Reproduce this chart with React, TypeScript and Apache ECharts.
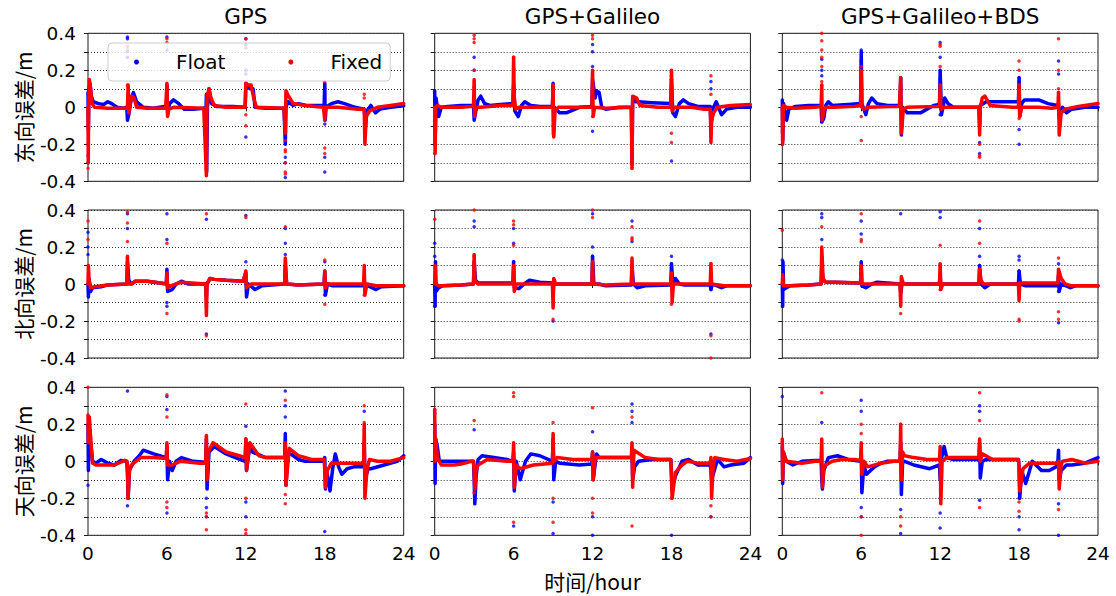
import React, { useEffect, useRef } from 'react';
import * as echarts from 'echarts';

type P = [number, number][];

const columnTitles = ['GPS', 'GPS+Galileo', 'GPS+Galileo+BDS'];
const rowLabels = ['东向误差/m', '北向误差/m', '天向误差/m'];
const xAxisName = '时间/hour';
const seriesNames = ['Float', 'Fixed'];

// ---------- East ----------
const E_GPS_float: P = [[0,0.08],[0.03,-0.12],[0.07,0.1],[0.15,0.13],[0.25,0.06],[0.4,0.03],[0.8,0.02],[1.2,0.015],[1.5,0.03],[1.8,0.02],[2.2,0.0],[2.7,-0.005],[2.95,0.0],[3.0,-0.07],[3.1,-0.04],[3.3,0.05],[3.45,0.08],[3.7,0.03],[4.2,0.0],[5.0,-0.005],[5.8,0.005],[5.98,0.0],[6.0,0.12],[6.05,-0.03],[6.2,0.02],[6.5,0.04],[6.9,0.02],[7.3,-0.01],[8.0,-0.01],[8.8,-0.005],[8.98,0.0],[9.0,0.07],[9.02,-0.35],[9.08,0.0],[9.2,0.1],[9.4,0.02],[9.8,0.005],[11.0,0.005],[11.95,0.0],[12.0,0.13],[12.3,0.1],[12.55,0.1],[12.7,0.0],[13.5,-0.005],[14.9,-0.005],[15.0,-0.2],[15.05,0.0],[15.2,0.03],[15.6,0.01],[16.0,0.02],[16.6,0.01],[17.95,0.01],[18.0,0.13],[18.03,-0.07],[18.1,0.0],[18.5,0.02],[19.0,0.03],[19.5,0.02],[20.3,0.0],[21.0,-0.01],[21.1,-0.1],[21.2,-0.02],[21.5,0.01],[21.85,-0.03],[22.2,-0.01],[23.0,0.0],[24,0.008]];
const E_GPS_fixed: P = [[0,0.0],[0.02,-0.3],[0.05,0.0],[0.1,0.15],[0.2,0.1],[0.3,0.02],[0.5,0.0],[1.5,-0.005],[2.95,-0.005],[3.0,0.0],[3.05,0.12],[3.1,-0.03],[3.3,0.06],[3.5,0.05],[3.7,0.0],[4.5,-0.005],[5.9,-0.005],[6.0,0.13],[6.05,-0.05],[6.15,-0.01],[6.5,0.0],[8.8,-0.005],[9.0,-0.37],[9.05,0.06],[9.2,0.1],[9.35,0.05],[9.6,0.01],[10.5,0.0],[11.95,0.0],[12.0,0.13],[12.2,0.12],[12.4,0.12],[12.6,0.05],[12.8,0.0],[14.9,-0.005],[15.0,-0.14],[15.05,0.09],[15.25,0.06],[15.6,0.02],[16.5,0.01],[17.9,0.0],[18.0,-0.07],[18.05,0.0],[19.0,0.0],[20.5,-0.01],[21.0,-0.01],[21.05,-0.2],[21.15,-0.05],[21.4,-0.02],[22.0,0.0],[23.0,0.01],[24,0.02]];
const E_GPS_floatOut: P = [[3.0,0.38],[3.0,0.37],[3.0,0.3],[3.0,0.27],[6.0,0.38],[6.0,0.31],[0.0,-0.2],[0.0,-0.26],[0.0,-0.3],[12.0,0.37],[12.0,0.34],[12.0,0.2],[12.0,0.18],[12.0,-0.16],[15.0,-0.38],[15.0,-0.3],[15.0,-0.27],[15.0,-0.14],[18.0,-0.35],[18.0,-0.27],[18.0,-0.09],[18.0,0.1],[21.1,-0.06]];
const E_GPS_fixedOut: P = [[0.0,-0.33],[3.0,0.33],[3.0,0.31],[3.0,0.12],[6.0,0.37],[6.0,0.35],[12.0,0.37],[12.0,0.32],[12.0,-0.1],[12.0,-0.04],[15.0,-0.36],[15.0,-0.35],[15.0,-0.3],[15.0,-0.23],[15.0,-0.24],[15.0,-0.18],[18.0,-0.22],[18.0,-0.25],[18.0,0.14],[21.0,0.07],[21.0,0.05],[9.0,-0.33]];

const E_GE_float: P = [[0,0.09],[0.03,-0.2],[0.1,0.05],[0.3,-0.05],[0.5,0.0],[1.0,0.005],[2.0,0.01],[2.95,0.01],[3.0,-0.07],[3.1,-0.03],[3.3,0.04],[3.5,0.06],[3.8,0.02],[4.2,0.01],[5.0,0.015],[5.95,0.02],[6.0,0.12],[6.1,-0.02],[6.35,-0.05],[6.6,0.01],[6.85,0.03],[7.3,0.01],[8.0,0.005],[8.95,0.005],[9.0,0.13],[9.03,-0.15],[9.1,0.0],[9.5,-0.03],[10.0,-0.03],[11.0,0.0],[11.95,0.005],[12.0,0.15],[12.2,0.05],[12.3,0.09],[12.5,0.08],[12.7,0.0],[13.0,-0.01],[14.0,0.0],[14.95,0.0],[15.0,-0.3],[15.05,0.05],[15.3,0.03],[15.5,0.03],[16.5,0.025],[17.95,0.02],[18.0,0.15],[18.1,-0.03],[18.3,-0.05],[18.6,0.02],[18.9,0.04],[19.3,0.02],[20.0,0.005],[20.95,0.005],[21.0,-0.1],[21.2,0.0],[21.4,0.03],[21.8,-0.04],[22.2,-0.01],[23.0,0.0],[24,0.0]];
const E_GE_fixed: P = [[0,0.0],[0.03,-0.25],[0.08,0.0],[0.2,0.01],[0.5,0.0],[2.0,0.0],[2.95,0.005],[3.0,0.15],[3.03,-0.05],[3.1,0.0],[3.5,0.0],[5.0,0.01],[5.95,0.01],[6.0,0.27],[6.05,0.05],[6.15,-0.01],[6.4,0.0],[8.0,0.0],[8.95,0.0],[9.0,0.12],[9.05,-0.16],[9.15,-0.02],[9.4,0.0],[11.95,0.0],[12.0,0.2],[12.05,-0.05],[12.15,0.0],[13.0,-0.005],[14.95,0.0],[15.0,-0.33],[15.05,0.06],[15.35,0.05],[15.6,0.01],[17.0,0.0],[17.95,0.0],[18.0,0.2],[18.05,-0.02],[18.2,0.0],[19.5,0.0],[20.5,-0.01],[20.95,-0.01],[21.0,-0.19],[21.05,-0.07],[21.2,-0.03],[21.5,0.0],[22.5,0.01],[24,0.015]];
const E_GE_floatOut: P = [[0.0,-0.2],[3.0,0.27],[3.0,0.2],[6.0,0.2],[9.0,0.11],[12.0,0.34],[12.0,0.3],[12.0,0.22],[12.0,-0.13],[15.0,-0.17],[15.0,-0.22],[15.0,-0.28],[18.0,0.17],[18.0,0.15],[18.0,-0.29],[21.0,0.14],[21.0,0.1]];
const E_GE_fixedOut: P = [[0.0,-0.25],[3.0,0.39],[3.0,0.37],[3.0,0.35],[3.0,0.2],[3.0,0.11],[6.0,0.27],[6.0,0.21],[9.0,-0.1],[12.0,0.39],[12.0,0.37],[12.0,-0.05],[15.0,-0.33],[15.0,-0.31],[18.0,0.19],[18.0,-0.19],[18.0,-0.14],[21.0,0.17],[21.0,0.07],[21.0,-0.1]];

const E_GEB_float: P = [[0,0.04],[0.03,-0.18],[0.1,0.02],[0.33,-0.07],[0.5,-0.01],[1.0,0.005],[2.0,0.01],[2.95,0.01],[3.0,-0.08],[3.15,-0.06],[3.3,0.01],[3.5,0.03],[3.8,0.01],[5.0,0.015],[5.95,0.02],[6.0,0.3],[6.05,0.02],[6.35,-0.04],[6.55,0.02],[6.8,0.05],[7.2,0.02],[8.0,0.01],[8.95,0.01],[9.0,0.16],[9.05,-0.15],[9.15,0.0],[9.5,-0.03],[10.5,-0.03],[11.5,0.01],[11.95,0.015],[12.0,0.2],[12.1,-0.04],[12.35,0.05],[12.6,0.02],[13.0,0.0],[14.95,0.0],[15.0,-0.1],[15.05,0.01],[15.5,0.03],[17.0,0.03],[17.95,0.03],[18.0,0.16],[18.05,-0.05],[18.2,0.02],[18.4,0.04],[19.5,0.04],[20.2,0.02],[20.95,0.01],[21.0,0.02],[21.05,-0.05],[21.3,0.0],[21.6,-0.03],[22.0,-0.01],[23.0,0.0],[24,0.0]];
const E_GEB_fixed: P = [[0,0.0],[0.03,-0.2],[0.08,0.01],[0.3,0.0],[1.0,-0.005],[2.5,0.0],[2.95,0.005],[3.0,0.12],[3.03,-0.07],[3.15,-0.02],[3.3,0.0],[4.0,0.0],[5.5,0.005],[5.95,0.01],[6.0,0.2],[6.05,0.0],[6.2,-0.01],[6.5,0.0],[8.9,0.005],[9.0,0.16],[9.05,-0.14],[9.2,-0.01],[9.5,0.0],[11.95,0.005],[12.0,0.12],[12.05,-0.01],[12.3,0.0],[14.95,0.0],[15.0,-0.15],[15.05,0.0],[15.2,0.05],[15.4,0.06],[15.8,0.01],[17.5,0.0],[17.95,0.0],[18.0,0.12],[18.05,-0.05],[18.2,0.0],[19.5,0.0],[20.5,-0.005],[20.95,0.0],[21.0,0.08],[21.05,-0.15],[21.2,-0.03],[21.5,-0.01],[22.5,0.005],[23.5,0.015],[24,0.02]];
const E_GEB_floatOut: P = [[0.0,-0.2],[3.0,0.26],[3.0,0.2],[3.0,0.17],[3.0,0.12],[6.0,0.31],[6.0,0.25],[6.0,0.2],[9.0,0.16],[12.0,0.35],[12.0,0.27],[12.0,0.15],[12.0,-0.04],[15.0,-0.19],[15.0,-0.25],[18.0,0.16],[18.0,0.14],[18.0,-0.12],[18.0,-0.2],[21.0,0.25],[21.0,0.18]];
const E_GEB_fixedOut: P = [[0.0,-0.13],[3.0,0.4],[3.0,0.36],[3.0,0.31],[3.0,0.27],[3.0,0.22],[3.0,0.14],[6.0,0.22],[6.0,0.15],[6.0,0.09],[6.0,-0.05],[6.0,-0.18],[9.0,0.15],[9.0,0.12],[12.0,0.33],[12.0,0.34],[12.0,0.22],[15.0,-0.27],[15.0,-0.26],[15.0,-0.2],[18.0,0.25],[18.0,0.2],[18.0,-0.06],[21.0,0.37],[21.0,0.2],[21.0,0.1],[21.0,0.08]];

// ---------- North ----------
const N_GPS_float: P = [[0,0.0],[0.03,-0.07],[0.08,0.03],[0.2,-0.04],[0.35,-0.02],[1.0,-0.015],[1.5,-0.005],[2.95,0.0],[3.0,0.12],[3.1,0.02],[3.3,0.0],[3.6,0.015],[4.5,0.015],[5.5,0.005],[5.95,0.0],[6.0,0.08],[6.05,-0.04],[6.4,-0.03],[6.7,0.0],[7.1,0.015],[7.6,0.0],[8.95,0.0],[9.0,-0.08],[9.05,0.0],[9.3,0.03],[9.6,0.025],[10.5,0.02],[11.8,0.015],[12.0,0.06],[12.05,-0.07],[12.2,0.0],[12.7,-0.03],[13.2,-0.01],[14.95,0.0],[15.0,0.1],[15.1,0.0],[16.0,-0.005],[17.95,0.0],[18.0,0.07],[18.05,-0.06],[18.2,0.0],[18.6,-0.01],[20.5,-0.01],[20.95,-0.01],[21.0,0.0],[21.3,-0.01],[21.9,-0.03],[22.3,-0.015],[24,-0.01]];
const N_GPS_fixed: P = [[0,0.0],[0.03,0.1],[0.08,0.02],[0.2,-0.02],[0.5,-0.015],[1.5,-0.005],[2.95,0.0],[3.0,0.15],[3.05,0.0],[3.3,0.0],[3.6,0.015],[4.5,0.015],[5.5,0.005],[5.95,0.0],[6.0,0.06],[6.05,-0.02],[6.3,-0.01],[6.7,0.0],[7.1,0.01],[8.95,0.0],[9.0,-0.17],[9.05,0.0],[9.25,0.03],[9.6,0.025],[10.5,0.02],[11.8,0.015],[12.0,0.07],[12.05,-0.02],[12.4,0.0],[14.95,0.0],[15.0,0.14],[15.1,0.0],[16.0,-0.005],[17.95,0.0],[18.0,0.07],[18.05,-0.02],[18.2,0.0],[20.95,0.0],[21.0,0.1],[21.05,-0.06],[21.2,0.0],[22.0,-0.01],[24,-0.01]];
const N_GPS_floatOut: P = [[0.0,0.28],[0.0,0.2],[0.0,0.16],[3.0,0.38],[3.0,0.3],[3.0,0.14],[6.0,0.38],[6.0,0.24],[6.0,-0.1],[6.0,-0.12],[9.0,0.35],[9.0,-0.27],[9.0,-0.12],[12.0,0.37],[12.0,0.12],[15.0,0.3],[15.0,0.22],[15.0,0.16],[18.0,0.12],[18.0,-0.06]];
const N_GPS_fixedOut: P = [[0.0,0.34],[0.0,0.24],[3.0,0.39],[3.0,0.33],[3.0,0.23],[6.0,0.22],[6.0,-0.16],[9.0,0.38],[9.0,-0.28],[9.0,-0.1],[12.0,0.36],[15.0,0.31],[18.0,0.13],[18.0,-0.11],[21.0,-0.06]];

const N_GE_float: P = [[0,0.0],[0.03,-0.12],[0.06,0.12],[0.1,-0.04],[0.3,-0.02],[0.6,-0.01],[2.0,-0.005],[2.95,0.0],[3.0,0.12],[3.1,0.02],[3.3,0.005],[5.95,0.005],[6.0,0.12],[6.05,-0.02],[6.4,-0.025],[6.8,0.0],[7.2,0.02],[8.0,0.01],[8.95,0.005],[9.0,-0.05],[9.05,0.0],[10.0,0.0],[11.95,0.0],[12.0,0.15],[12.1,0.0],[12.5,0.0],[13.0,-0.01],[14.95,-0.005],[15.0,0.1],[15.1,0.0],[15.4,-0.02],[16.0,-0.01],[17.95,-0.005],[18.0,0.11],[18.1,0.0],[18.3,0.03],[18.6,0.0],[19.0,-0.005],[20.95,-0.005],[21.0,-0.03],[21.1,0.0],[21.8,-0.02],[22.2,-0.01],[24,-0.01]];
const N_GE_fixed: P = [[0,0.0],[0.03,0.1],[0.08,0.0],[0.3,-0.01],[0.6,-0.01],[2.0,-0.005],[2.95,0.0],[3.0,0.16],[3.05,0.02],[3.3,0.0],[5.95,0.0],[6.0,0.1],[6.05,-0.04],[6.2,0.0],[8.95,0.0],[9.0,-0.13],[9.05,0.03],[9.2,0.0],[11.95,0.0],[12.0,0.12],[12.05,0.0],[13.0,-0.005],[14.95,0.0],[15.0,0.14],[15.05,0.0],[17.95,0.0],[18.0,0.06],[18.05,-0.1],[18.15,0.0],[20.95,0.0],[21.0,0.11],[21.05,0.0],[22.0,-0.01],[24,-0.01]];
const N_GE_floatOut: P = [[0.0,0.22],[0.0,0.15],[0.0,-0.12],[3.0,0.34],[3.0,0.31],[6.0,0.3],[6.0,0.22],[6.0,0.12],[9.0,-0.2],[12.0,0.38],[12.0,0.2],[12.0,0.15],[15.0,0.34],[15.0,0.23],[18.0,0.15],[18.0,0.11],[21.0,-0.27],[21.0,-0.03]];
const N_GE_fixedOut: P = [[0.0,0.35],[3.0,0.4],[3.0,0.15],[6.0,0.34],[6.0,0.32],[6.0,0.21],[9.0,-0.19],[12.0,0.4],[12.0,0.36],[15.0,0.31],[15.0,0.25],[15.0,0.24],[18.0,-0.11],[21.0,0.11],[21.0,-0.28],[21.0,-0.4]];

const N_GEB_float: P = [[0,0.0],[0.03,-0.12],[0.05,0.12],[0.1,-0.03],[0.3,-0.02],[0.6,-0.01],[2.0,-0.005],[2.95,0.0],[3.0,0.1],[3.1,0.02],[3.3,0.01],[4.0,0.01],[5.95,0.005],[6.0,0.12],[6.05,-0.01],[6.35,-0.02],[6.8,0.0],[7.2,0.01],[8.0,0.005],[8.95,0.0],[9.0,-0.05],[9.1,0.0],[11.95,0.0],[12.0,0.06],[12.05,-0.02],[12.2,0.0],[14.95,0.0],[15.0,0.1],[15.1,0.0],[15.4,-0.02],[15.8,0.0],[17.95,0.0],[18.0,0.07],[18.1,0.0],[18.5,-0.01],[20.95,-0.01],[21.0,0.05],[21.05,-0.04],[21.2,0.0],[21.9,-0.02],[22.3,-0.01],[24,-0.01]];
const N_GEB_fixed: P = [[0,0.0],[0.03,0.05],[0.08,-0.01],[0.6,-0.01],[2.0,-0.005],[2.95,0.0],[3.0,0.2],[3.1,0.03],[3.3,0.01],[4.0,0.01],[5.95,0.005],[6.0,0.1],[6.05,0.0],[8.95,0.0],[9.0,-0.12],[9.05,0.04],[9.2,0.0],[11.95,0.0],[12.0,0.11],[12.05,-0.03],[12.2,0.0],[14.95,0.0],[15.0,0.08],[15.1,0.02],[15.3,0.0],[17.95,0.0],[18.0,-0.09],[18.05,0.005],[20.95,0.005],[21.0,0.08],[21.2,0.03],[21.5,0.0],[22.0,-0.01],[24,-0.01]];
const N_GEB_floatOut: P = [[0.0,0.13],[0.0,-0.12],[3.0,0.38],[3.0,0.36],[3.0,0.24],[6.0,0.34],[6.0,0.27],[9.0,0.38],[12.0,0.39],[12.0,0.36],[12.0,0.1],[15.0,0.3],[15.0,0.15],[15.0,0.1],[18.0,0.15],[18.0,0.13],[18.0,0.07],[21.0,0.11],[21.0,-0.04],[21.0,-0.21]];
const N_GEB_fixedOut: P = [[0.0,0.29],[3.0,0.31],[6.0,0.38],[6.0,0.24],[6.0,0.23],[9.0,-0.16],[12.0,0.21],[12.0,-0.03],[15.0,0.34],[15.0,0.22],[18.0,-0.19],[18.0,-0.2],[21.0,0.14],[21.0,-0.15],[21.0,-0.19]];

// ---------- Up ----------
const U_GPS_float: P = [[0,0.2],[0.03,-0.05],[0.08,0.15],[0.2,0.1],[0.35,0.0],[0.6,-0.01],[1.0,0.01],[1.5,-0.01],[2.0,-0.02],[2.5,0.005],[2.95,0.0],[3.0,-0.07],[3.05,-0.2],[3.15,-0.05],[3.5,0.0],[3.9,0.03],[4.2,0.06],[5.0,0.04],[5.95,0.02],[6.0,0.08],[6.05,-0.1],[6.2,0.0],[6.4,-0.05],[6.7,0.0],[7.1,0.02],[8.0,0.0],[8.95,-0.005],[9.0,0.12],[9.05,-0.15],[9.2,0.05],[9.6,0.08],[10.5,0.04],[11.2,0.02],[11.95,0.0],[12.0,0.12],[12.05,-0.05],[12.3,0.08],[12.5,0.05],[13.5,0.02],[14.95,0.02],[15.0,0.15],[15.05,-0.13],[15.2,0.04],[15.4,0.04],[16.0,0.01],[16.5,0.0],[17.95,0.0],[18.0,0.02],[18.05,-0.15],[18.15,-0.05],[18.4,-0.16],[18.6,-0.04],[18.8,0.04],[19.05,-0.03],[19.3,-0.07],[19.7,-0.04],[20.2,-0.03],[20.95,-0.03],[21.0,0.1],[21.05,-0.1],[21.3,-0.04],[21.5,-0.04],[22.5,-0.02],[23.5,0.0],[24,0.03]];
const U_GPS_fixed: P = [[0,0.25],[0.03,0.1],[0.1,0.24],[0.2,0.13],[0.35,-0.01],[0.6,-0.02],[1.5,-0.02],[2.0,-0.02],[2.8,0.005],[2.95,0.0],[3.0,-0.02],[3.05,-0.2],[3.15,-0.05],[3.3,-0.02],[4.0,0.02],[5.0,0.02],[5.95,0.015],[6.0,0.1],[6.05,-0.02],[6.4,-0.02],[7.0,0.0],[8.5,-0.01],[8.95,-0.01],[9.0,0.14],[9.05,-0.1],[9.15,0.05],[9.5,0.1],[10.5,0.05],[11.5,0.03],[11.95,0.02],[12.0,0.12],[12.05,-0.05],[12.3,0.1],[13.0,0.03],[13.5,0.02],[14.95,0.02],[15.0,0.1],[15.05,-0.13],[15.15,-0.05],[15.3,0.07],[16.0,0.03],[17.0,0.01],[17.95,0.01],[18.0,-0.05],[18.05,-0.14],[18.2,-0.05],[18.5,-0.01],[19.5,-0.01],[20.95,-0.01],[21.0,0.2],[21.05,-0.2],[21.2,-0.05],[21.4,0.01],[22.0,0.0],[23.0,0.0],[24,0.02]];
const U_GPS_floatOut: P = [[0.0,-0.13],[3.0,0.38],[3.0,-0.24],[6.0,0.35],[6.0,0.28],[6.0,-0.28],[9.0,-0.2],[9.0,-0.25],[9.0,-0.3],[12.0,0.19],[12.0,-0.22],[12.0,-0.3],[15.0,0.38],[15.0,0.3],[15.0,0.24],[18.0,-0.38],[21.0,0.27],[21.0,0.17]];
const U_GPS_fixedOut: P = [[0.0,0.4],[3.0,-0.2],[6.0,0.36],[6.0,0.24],[6.0,-0.22],[6.0,-0.25],[9.0,-0.28],[9.0,-0.3],[9.0,-0.37],[12.0,0.31],[12.0,-0.2],[12.0,-0.37],[12.0,-0.39],[15.0,0.33],[15.0,-0.18],[15.0,-0.23],[21.0,0.3],[21.0,0.21]];

const U_GE_float: P = [[0,0.2],[0.03,-0.12],[0.08,0.12],[0.2,0.08],[0.35,0.0],[1.0,0.0],[2.0,0.0],[2.95,0.0],[3.0,-0.1],[3.05,-0.23],[3.15,-0.08],[3.3,0.01],[3.6,0.03],[4.5,0.02],[5.5,0.01],[5.95,0.0],[6.0,0.05],[6.05,-0.16],[6.2,0.0],[6.5,-0.1],[6.9,0.0],[7.3,0.04],[8.0,0.03],[8.95,0.0],[9.0,0.12],[9.05,-0.1],[9.2,0.0],[9.5,-0.01],[11.0,-0.02],[11.95,-0.015],[12.0,0.05],[12.05,-0.1],[12.3,0.04],[12.5,0.02],[14.95,0.02],[15.0,0.05],[15.05,-0.1],[15.2,-0.03],[15.5,0.0],[16.5,0.01],[17.95,0.01],[18.0,-0.06],[18.05,-0.15],[18.3,-0.08],[18.8,0.0],[19.3,0.01],[20.0,-0.02],[20.95,-0.02],[21.0,-0.05],[21.05,-0.1],[21.5,0.01],[22.0,-0.03],[22.5,-0.02],[23.5,-0.01],[24,0.02]];
const U_GE_fixed: P = [[0,0.28],[0.03,0.0],[0.08,0.12],[0.2,0.02],[0.5,-0.02],[1.5,-0.02],[2.0,-0.015],[2.8,0.0],[2.95,0.0],[3.0,-0.05],[3.05,-0.15],[3.15,-0.05],[3.3,-0.02],[4.0,0.01],[5.5,0.0],[5.95,0.0],[6.0,0.1],[6.05,-0.14],[6.2,-0.02],[6.5,-0.04],[7.5,-0.02],[8.95,-0.01],[9.0,0.15],[9.05,0.0],[9.3,0.02],[10.5,0.01],[11.95,0.01],[12.0,0.05],[12.05,-0.1],[12.2,0.02],[14.95,0.02],[15.0,0.1],[15.05,-0.14],[15.15,0.06],[16.0,0.02],[17.0,0.01],[17.95,0.01],[18.0,-0.1],[18.05,-0.2],[18.3,-0.06],[18.8,-0.02],[19.2,0.0],[20.0,-0.01],[20.95,-0.01],[21.0,0.02],[21.05,-0.2],[21.15,-0.05],[21.3,0.02],[22.0,0.01],[23.0,0.0],[24,0.015]];
const U_GE_floatOut: P = [[0.0,0.26],[3.0,0.17],[6.0,-0.35],[9.0,-0.22],[9.0,-0.39],[12.0,0.16],[12.0,-0.3],[12.0,-0.4],[15.0,0.31],[15.0,0.27],[15.0,0.21],[18.0,-0.4],[21.0,-0.3]];
const U_GE_fixedOut: P = [[0.0,0.28],[3.0,0.22],[3.0,-0.17],[6.0,0.37],[6.0,0.35],[6.0,-0.33],[9.0,0.21],[9.0,-0.2],[9.0,-0.33],[12.0,0.29],[12.0,-0.2],[12.0,-0.28],[15.0,0.24],[15.0,-0.35],[18.0,-0.2],[21.0,-0.24],[21.0,-0.3]];

const U_GEB_float: P = [[0,0.08],[0.03,-0.12],[0.08,0.05],[0.3,0.0],[0.8,-0.02],[1.5,0.0],[2.5,0.005],[2.95,0.005],[3.0,-0.1],[3.05,-0.15],[3.15,-0.05],[3.5,0.02],[4.2,0.03],[5.0,0.01],[5.95,0.0],[6.0,0.05],[6.05,-0.17],[6.2,-0.02],[6.4,-0.07],[7.0,-0.03],[7.5,-0.01],[8.0,0.0],[8.95,0.0],[9.0,0.1],[9.05,-0.18],[9.15,0.0],[9.3,0.0],[10.0,-0.02],[11.2,-0.04],[11.95,-0.02],[12.0,-0.1],[12.05,0.0],[12.3,0.08],[12.5,0.02],[13.0,0.01],[14.95,0.01],[15.0,0.1],[15.05,-0.09],[15.2,0.0],[15.5,0.01],[17.95,0.01],[18.0,-0.03],[18.05,-0.2],[18.2,-0.05],[18.5,-0.12],[18.8,-0.05],[19.0,0.0],[19.7,-0.05],[20.3,-0.05],[20.8,-0.03],[20.95,0.0],[21.0,0.06],[21.05,-0.1],[21.2,-0.05],[21.6,-0.02],[22.0,-0.02],[23.0,-0.01],[24,0.02]];
const U_GEB_fixed: P = [[0,0.12],[0.03,-0.1],[0.08,0.05],[0.3,0.0],[1.5,-0.01],[2.5,0.0],[2.95,0.0],[3.0,0.12],[3.05,-0.14],[3.15,-0.04],[3.3,-0.02],[3.8,0.0],[4.5,0.01],[5.5,0.01],[5.95,0.005],[6.0,0.1],[6.05,-0.07],[6.2,0.0],[6.5,-0.03],[7.5,-0.01],[8.5,0.0],[8.95,0.0],[9.0,0.2],[9.05,-0.1],[9.15,0.05],[9.3,0.03],[10.0,0.02],[11.0,0.01],[11.95,0.01],[12.0,0.08],[12.05,-0.23],[12.15,0.0],[12.5,0.02],[14.95,0.02],[15.0,0.12],[15.05,0.0],[15.2,0.04],[16.0,0.01],[17.5,0.01],[17.95,0.01],[18.0,-0.03],[18.05,-0.16],[18.3,-0.04],[18.8,-0.01],[20.95,-0.01],[21.0,0.0],[21.05,-0.15],[21.2,-0.02],[21.3,0.0],[22.0,0.01],[22.5,0.0],[23.0,-0.01],[24,0.0]];
const U_GEB_floatOut: P = [[0.0,0.35],[3.0,0.21],[6.0,0.33],[6.0,0.27],[6.0,-0.25],[6.0,-0.3],[9.0,-0.26],[9.0,-0.39],[12.0,-0.28],[12.0,-0.36],[15.0,0.3],[15.0,0.27],[15.0,-0.21],[18.0,-0.3],[18.0,-0.37],[18.0,-0.2],[21.0,-0.23],[21.0,-0.4]];
const U_GEB_fixedOut: P = [[3.0,0.37],[6.0,0.2],[6.0,0.15],[6.0,-0.3],[6.0,-0.4],[9.0,0.2],[9.0,-0.3],[9.0,-0.35],[12.0,-0.2],[15.0,0.37],[15.0,0.22],[15.0,-0.25],[18.0,-0.22],[18.0,-0.27],[21.0,-0.26]];

const panels: P[][] = [
  [E_GPS_float, E_GPS_fixed, E_GPS_floatOut, E_GPS_fixedOut],
  [E_GE_float, E_GE_fixed, E_GE_floatOut, E_GE_fixedOut],
  [E_GEB_float, E_GEB_fixed, E_GEB_floatOut, E_GEB_fixedOut],
  [N_GPS_float, N_GPS_fixed, N_GPS_floatOut, N_GPS_fixedOut],
  [N_GE_float, N_GE_fixed, N_GE_floatOut, N_GE_fixedOut],
  [N_GEB_float, N_GEB_fixed, N_GEB_floatOut, N_GEB_fixedOut],
  [U_GPS_float, U_GPS_fixed, U_GPS_floatOut, U_GPS_fixedOut],
  [U_GE_float, U_GE_fixed, U_GE_floatOut, U_GE_fixedOut],
  [U_GEB_float, U_GEB_fixed, U_GEB_floatOut, U_GEB_fixedOut],
];

const BLUE = '#0000ff';
const RED = '#ff0000';
const LATIN = "'DejaVu Sans', sans-serif";
const CJK = "'Noto Sans CJK SC', 'DejaVu Sans', sans-serif";

const colLeft = [88, 434.7, 782.3];
const colWidth = 315.7;
const rowTop = [33.3, 210, 387.3];
const rowHeight = 148;

function buildOption() {
  const grid: any[] = [];
  const xAxis: any[] = [];
  const yAxis: any[] = [];
  const series: any[] = [];
  for (let r = 0; r < 3; r++) {
    for (let c = 0; c < 3; c++) {
      const i = r * 3 + c;
      grid.push({
        left: colLeft[c], top: rowTop[r], width: colWidth, height: rowHeight,
        show: true, borderColor: '#1a1a1a', borderWidth: 1, backgroundColor: 'transparent',
      });
      xAxis.push({
        type: 'value', gridIndex: i, min: 0, max: 24, interval: 6,
        axisLine: { show: false },
        axisTick: { show: true, inside: false, length: 4, lineStyle: { color: '#1a1a1a' } },
        axisLabel: { show: r === 2, fontSize: 18.5, color: '#000', margin: 9, fontFamily: LATIN },
        splitLine: { show: false },
        name: r === 2 && c === 1 ? xAxisName : '',
        nameLocation: 'middle', nameGap: 35,
        nameTextStyle: { fontSize: 21, color: '#000', fontFamily: CJK },
      });
      yAxis.push({
        type: 'value', gridIndex: i, min: -0.4, max: 0.4, interval: 0.1,
        axisLine: { show: false },
        axisTick: { show: true, inside: false, length: 4, lineStyle: { color: '#1a1a1a' } },
        axisLabel: {
          show: c === 0, fontSize: 18.5, color: '#000', margin: 12, fontFamily: LATIN,
          formatter: (v: number) => {
            const k = Math.round(v * 10);
            if (k % 2 !== 0) return '';
            if (k === 0) return '0';
            return (k / 10).toFixed(1);
          },
        },
        splitLine: { show: true, lineStyle: { color: '#333', type: [1, 2], width: 1 } },
        name: c === 0 ? rowLabels[r] : '',
        nameLocation: 'middle', nameGap: 55, nameRotate: 90,
        nameTextStyle: { fontSize: 21, color: '#000', fontFamily: CJK },
      });
      const [fl, fx, flo, fxo] = panels[i];
      series.push({
        type: 'line', name: seriesNames[0], xAxisIndex: i, yAxisIndex: i, data: fl,
        showSymbol: false, symbol: 'none', silent: true, z: 2,
        itemStyle: { color: BLUE },
        lineStyle: { color: BLUE, width: 3.5, cap: 'round', join: 'round' },
      });
      series.push({
        type: 'scatter', name: seriesNames[0], xAxisIndex: i, yAxisIndex: i, data: flo,
        symbolSize: 3.5, silent: true, z: 2, itemStyle: { color: BLUE },
      });
      series.push({
        type: 'line', name: seriesNames[1], xAxisIndex: i, yAxisIndex: i, data: fx,
        showSymbol: false, symbol: 'none', silent: true, z: 3,
        itemStyle: { color: RED },
        lineStyle: { color: RED, width: 3.5, cap: 'round', join: 'round' },
      });
      series.push({
        type: 'scatter', name: seriesNames[1], xAxisIndex: i, yAxisIndex: i, data: fxo,
        symbolSize: 3.5, silent: true, z: 3, itemStyle: { color: RED },
      });
    }
  }
  const title = columnTitles.map((t, c) => ({
    text: t, left: colLeft[c] + colWidth / 2, top: 5, textAlign: 'center', padding: 0,
    textStyle: { fontSize: 21.5, fontWeight: 'normal', color: '#000', fontFamily: LATIN },
  }));
  return {
    animation: false,
    backgroundColor: '#ffffff',
    title,
    legend: {
      data: seriesNames.map((n) => ({ name: n, icon: 'circle' })),
      left: 108, top: 43, orient: 'horizontal',
      itemWidth: 5, itemHeight: 5, itemGap: 63,
      padding: [9, 8, 9, 26],
      borderColor: '#cccccc', borderWidth: 1, borderRadius: 4,
      backgroundColor: 'rgba(255,255,255,0.8)',
      selectedMode: false,
      textStyle: { fontSize: 20, color: '#000', fontFamily: LATIN, padding: [0, 0, 0, 32] },
      z: 10,
    },
    grid, xAxis, yAxis, series,
  };
}

export default function App() {
  const ref = useRef<HTMLDivElement>(null);
  useEffect(() => {
    if (!ref.current) return;
    const chart = echarts.init(ref.current, undefined, { renderer: 'svg' });
    chart.setOption(buildOption() as any);
    return () => chart.dispose();
  }, []);
  return (
    <div
      ref={ref}
      style={{ position: 'absolute', left: 0, top: 0, width: 1116, height: 596, background: '#fff' }}
    />
  );
}
